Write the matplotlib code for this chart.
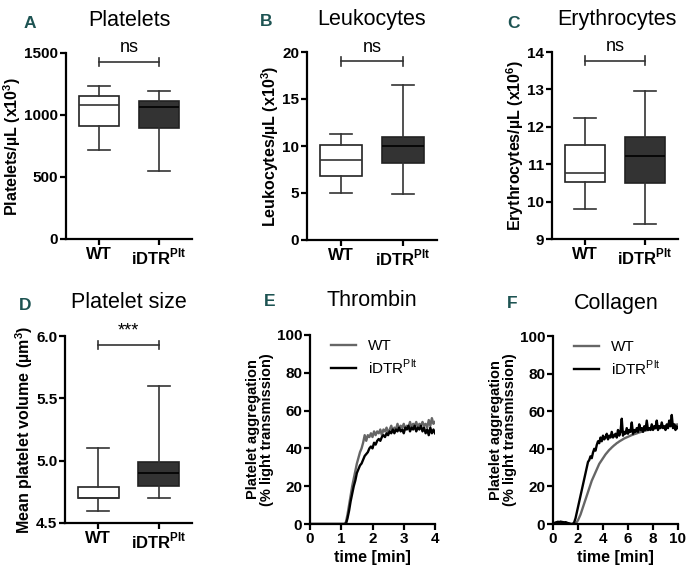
import numpy as np
import matplotlib
matplotlib.use('Agg')
import matplotlib.pyplot as plt

plt.rcParams['font.family'] = ['Liberation Sans', 'DejaVu Sans']

# box plot data: whislo, q1, med, q3, whishi  (WT, iDTR)
groups = ['WT', 'iDTR$^{\\mathregular{Plt}}$']
plt_wt = [714, 915, 1081, 1151, 1234]
plt_ko = [547, 896, 1068, 1116, 1191]
leu_wt = [5.04, 6.82, 8.49, 10.09, 11.26]
leu_ko = [4.87, 8.17, 10.02, 11.01, 16.45]
ery_wt = [9.79, 10.52, 10.77, 11.51, 12.24]
ery_ko = [9.39, 10.50, 11.22, 11.73, 12.95]
mpv_wt = [4.60, 4.70, 4.70, 4.79, 5.10]
mpv_ko = [4.70, 4.80, 4.90, 4.99, 5.60]

# aggregation traces
thr_t = np.linspace(0, 4, 81)
thr_wt = [0]*23 + [1, 5, 10, 15, 20, 24, 28, 32, 35, 38, 40, 43, 47, 44, 47, 46, 48, 46, 49, 47,
                   49, 48, 50, 47, 50, 49, 51, 48, 50, 52, 49, 51, 50, 53, 50, 52, 51, 53, 50, 52,
                   51, 54, 51, 53, 52, 54, 51, 53, 52, 54, 52, 53, 51, 55, 52, 56, 53, 54]
thr_ko = [0]*23 + [0, 3, 7, 12, 16, 20, 23, 27, 29, 31, 32, 34, 36, 37, 38, 40, 41, 40, 43, 42,
                   44, 45, 44, 46, 47, 46, 48, 47, 49, 48, 50, 48, 50, 49, 51, 49, 50, 48, 51, 50,
                   52, 49, 51, 50, 52, 49, 51, 50, 52, 49, 51, 48, 50, 47, 51, 48, 50, 48]

col_t = np.linspace(0, 10, 101)
col_wt = [0, 0.3, 0.5, 0.6, 0.8, 0.8, 0.9, 1, 1, 0.9, 0.8, 0.6, 0.4, 0.2, 0, 0, 0, 0.2,
          0.5, 1, 2, 3.5, 5, 7, 9, 11, 13, 15, 17, 19, 21, 23, 24.5, 26, 27.5, 29, 30.5, 32, 33, 34,
          35, 36, 37, 37.8, 38.6, 39.4, 40, 40.7, 41.3, 41.9, 42.4, 43, 43.4, 43.9, 44.3, 44.7, 45.1,
          45.5, 45.8, 46.1, 46.4, 46.7, 47, 47.3, 47.5, 47.8, 48, 48.2, 48.5, 48.7, 48.9, 49.1, 49.3,
          49.5, 49.7, 49.9, 50, 50.2, 50.4, 50.5, 50.7, 50.8, 51, 51.1, 51.2, 51.4, 51.5, 51.6, 51.7,
          51.8, 52, 52.1, 52.2, 52.3, 52.4, 52.5, 52.6, 52.7, 52.8, 52.9, 53]
col_ko = [0, 0.5, 0.8, 1, 1.2, 1, 1.3, 1.1, 1, 0.8, 1, 0.7, 0.5, 0.3, 0.1, 0, 0,
          1, 3, 6, 9, 12, 15, 18, 21, 24, 27, 30, 33, 34, 36, 35, 38, 40, 39, 42, 44, 43, 46, 44,
          47, 45, 46, 48, 45, 47, 46, 49, 46, 47, 48, 46, 50, 47, 49, 56, 47, 49, 48, 51,
          48, 50, 49, 54, 48, 50, 49, 51, 49, 53, 50, 51, 49, 52, 50, 55, 50, 51, 50, 53,
          50, 52, 51, 55, 50, 52, 51, 54, 51, 52, 50, 53, 51, 55, 52, 58, 51, 53, 50, 52, 51]

W, H = 690, 580
fig = plt.figure(figsize=(6.9, 5.8), dpi=100)

def axes_px(l, r, t, b):
    return fig.add_axes([l / W, 1 - b / H, (r - l) / W, (b - t) / H])

dark = '#222222'
teal = '#1d5352'

def style(ax):
    for s in ['top', 'right']:
        ax.spines[s].set_visible(False)
    for s in ['left', 'bottom']:
        ax.spines[s].set_linewidth(1.6)
        ax.spines[s].set_color('black')
    ax.tick_params(width=1.6, length=4, labelsize=11, pad=1.5)
    for lab in ax.get_xticklabels() + ax.get_yticklabels():
        lab.set_fontweight('bold')

def boxpanel(ax, wt, ko, ylim, yticks, ylabel, yb, sig, fmt=None):
    stats = []
    for v, lab in zip([wt, ko], groups):
        stats.append({'whislo': v[0], 'q1': v[1], 'med': v[2], 'q3': v[3], 'whishi': v[4],
                      'label': lab, 'fliers': []})
    bp = ax.bxp(stats, positions=[0, 1], widths=0.67, patch_artist=True, showfliers=False,
                capwidths=0.36,
                boxprops=dict(linewidth=1.2, edgecolor=dark),
                whiskerprops=dict(linewidth=1.2, color='#333333'),
                capprops=dict(linewidth=1.2, color='#333333'),
                medianprops=dict(linewidth=1.2, color='#333333'))
    bp['boxes'][0].set_facecolor('white')
    bp['boxes'][1].set_facecolor('#333333')
    bp['medians'][1].set_color('black')
    ax.set_xlim(-0.55, 1.55)
    ax.set_ylim(*ylim)
    ax.set_yticks(yticks)
    if fmt:
        ax.set_yticklabels([fmt % v for v in yticks])
    ax.set_ylabel(ylabel, fontsize=11.5, fontweight='bold', labelpad=1)
    # significance bracket
    d = (ylim[1] - ylim[0]) * 0.022
    ax.plot([0, 1], [yb, yb], color='#333333', lw=1.2, clip_on=False)
    ax.plot([0, 0], [yb - d, yb + d], color='#333333', lw=1.2, clip_on=False)
    ax.plot([1, 1], [yb - d, yb + d], color='#333333', lw=1.2, clip_on=False)
    ax.text(0.5, yb + (ylim[1] - ylim[0]) * 0.03, sig, ha='center', va='bottom', fontsize=13)
    style(ax)
    ax.tick_params(axis='x', labelsize=12)

axA = axes_px(66, 192, 53, 239)
boxpanel(axA, plt_wt, plt_ko, (0, 1500), [0, 500, 1000, 1500],
         'Platelets/µL (x10$^{\\mathregular{3}}$)', 1430, 'ns')
axB = axes_px(307, 437, 52, 240)
boxpanel(axB, leu_wt, leu_ko, (0, 20), [0, 5, 10, 15, 20],
         'Leukocytes/µL (x10$^{\\mathregular{3}}$)', 19, 'ns')
axC = axes_px(552, 678, 52, 239)
boxpanel(axC, ery_wt, ery_ko, (9, 14), [9, 10, 11, 12, 13, 14],
         'Erythrocytes/µL (x10$^{\\mathregular{6}}$)', 13.77, 'ns')
axD = axes_px(65, 192, 336, 523)
boxpanel(axD, mpv_wt, mpv_ko, (4.5, 6.0), [4.5, 5.0, 5.5, 6.0],
         'Mean platelet volume (µm$^{\\mathregular{3}}$)', 5.925, '***', fmt='%.1f')

def tracepanel(ax, t, wt, ko, xticks):
    ax.plot(t, wt, color='#666666', lw=1.7, label='WT')
    ax.plot(t, ko, color='black', lw=1.7, label=groups[1])
    ax.set_xlim(xticks[0], xticks[-1])
    ax.set_ylim(0, 100)
    ax.set_xticks(xticks)
    ax.set_yticks([0, 20, 40, 60, 80, 100])
    ax.set_xlabel('time [min]', fontsize=11.5, fontweight='bold', labelpad=3)
    ax.set_ylabel('Platelet aggregation\n(% light transmission)', fontsize=10.5,
                  fontweight='bold', labelpad=2, linespacing=1.0)
    ax.legend(loc='upper left', bbox_to_anchor=(0.06, 1.05), frameon=False, fontsize=11,
              handlelength=1.6, handletextpad=0.8, labelspacing=0.3)
    style(ax)

axE = axes_px(310, 435, 335, 524)
tracepanel(axE, thr_t, thr_wt, thr_ko, [0, 1, 2, 3, 4])
axF = axes_px(553, 678, 336, 524)
tracepanel(axF, col_t, col_wt, col_ko, [0, 2, 4, 6, 8, 10])

titles = [('Platelets', 129, 20), ('Leukocytes', 372, 20), ('Erythrocytes', 617, 20),
          ('Platelet size', 129, 303), ('Thrombin', 372, 301), ('Collagen', 616, 303)]
for txt, x, y in titles:
    fig.text(x / W, 1 - y / H, txt, ha='center', va='center', fontsize=15.5)

letters = [('A', 30, 23), ('B', 266, 22), ('C', 514, 24),
           ('D', 25, 305), ('E', 270, 301), ('F', 512, 303)]
for txt, x, y in letters:
    fig.text(x / W, 1 - y / H, txt, ha='center', va='center', fontsize=12.5,
             color=teal, fontweight='bold', fontstretch='condensed')

fig.savefig('out.png', dpi=100)
